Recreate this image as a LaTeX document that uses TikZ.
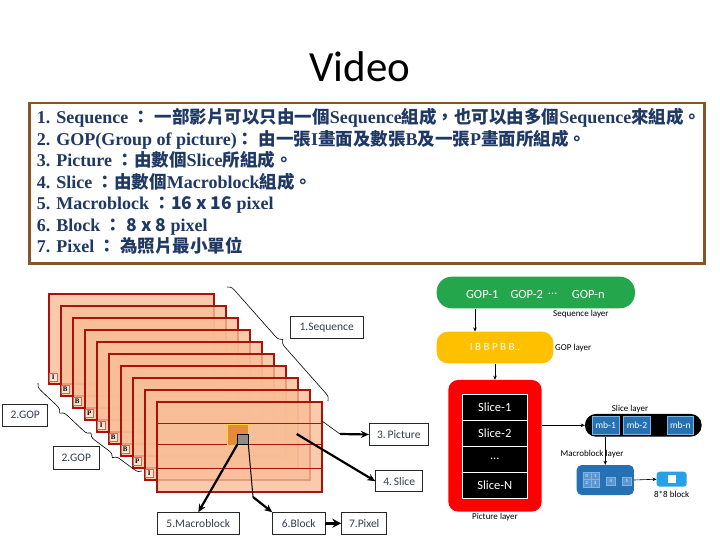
\documentclass[tikz,border=0pt]{standalone}
\usepackage{fontspec}
\setmainfont{Carlito}
\newfontfamily\lat{Liberation Serif}
\newfontfamily\cjk{Noto Sans CJK TC}
\usetikzlibrary{decorations.pathreplacing,arrows.meta}
\definecolor{navy}{RGB}{31,56,100}
\definecolor{brownb}{RGB}{135,85,40}
\definecolor{peach}{RGB}{248,190,152}
\definecolor{framered}{RGB}{170,18,10}
\definecolor{labtxt}{RGB}{50,62,78}
\definecolor{gGreen}{RGB}{36,166,76}
\definecolor{gYellow}{RGB}{255,192,0}
\definecolor{gRed}{RGB}{255,0,0}
\definecolor{mbBlue}{RGB}{38,112,180}
\definecolor{mbEdge}{RGB}{130,180,225}
\definecolor{mbIn}{RGB}{90,150,210}
\definecolor{lBlue}{RGB}{40,160,230}
\newcommand\zh[1]{{\cjk\bfseries\fontsize{17.5}{21}\selectfont #1}}
\begin{document}
\begin{tikzpicture}[x=1pt,y=-1pt,
  txtline/.style={anchor=base west,inner sep=0pt,text=navy,font=\lat\bfseries\fontsize{18}{21}\selectfont},
  frame/.style={draw=framered,line width=2pt,fill=peach,fill opacity=0.8,anchor=north west,minimum width=165pt,minimum height=90pt,inner sep=0pt},
  lab/.style={fill={rgb,255:red,252;green,226;blue,208},draw={rgb,255:red,200;green,110;blue,90},line width=0.4pt,minimum size=8.5pt,inner sep=0pt,font=\lat\bfseries\fontsize{7}{7}\selectfont,text=black},
  lbox/.style={draw={rgb,255:red,40;green,40;blue,40},line width=0.8pt,fill=white,inner sep=0pt,text=labtxt,font=\fontsize{11.5}{13}\selectfont},
  bigarrow/.style={line width=2.2pt,-{Stealth[length=8pt,width=7pt]}},
  sarrow/.style={line width=0.6pt,-{Stealth[length=4pt,width=3.5pt]}},
  brc/.style={decorate,decoration={brace,amplitude=7pt},line width=0.6pt},
  small/.style={inner sep=0pt,font=\fontsize{9}{10}\selectfont,text=black},
  cell/.style={fill=black,draw=white,line width=0.8pt,minimum width=65pt,minimum height=25.8pt,inner sep=0pt,text=white,font=\fontsize{12.5}{14}\selectfont},
  mbb/.style={fill=mbBlue,draw=mbEdge,line width=0.6pt,minimum height=18pt,inner sep=0pt,text=white,font=\fontsize{9.5}{10}\selectfont},
  qb/.style={fill=mbIn,draw=mbEdge,line width=0.4pt,inner sep=0pt,text=white,font=\fontsize{4.5}{5}\selectfont}
]
\useasboundingbox (0,0) rectangle (720,540);
\fill[white] (0,0) rectangle (720,540);

% title
\node[inner sep=0pt] (title) at (360,67) {\fontsize{43}{50}\selectfont Video};

% text box
\node[draw=brownb,line width=2.5pt,anchor=north west,minimum width=675pt,minimum height=160pt,inner sep=0pt] (tbox) at (28,102) {};
\node[txtline] (l1) at (36.7,124) {1. Sequence \zh{：} \zh{一部影片可以只由一個}Sequence\zh{組成，也可以由多個}Sequence\zh{來組成。}};
\node[txtline] (l2) at (36.7,145.4) {2. GOP(Group of picture)\zh{：} \zh{由一張}I\zh{畫面及數張}B\zh{及一張}P\zh{畫面所組成。}};
\node[txtline] (l3) at (36.7,166.8) {3. Picture \zh{：由數個}Slice\zh{所組成。}};
\node[txtline] (l4) at (36.7,188.2) {4. Slice \zh{：由數個}Macroblock\zh{組成。}};
\node[txtline] (l5) at (36.7,209.6) {5. Macroblock \zh{：16 x 16} pixel};
\node[txtline] (l6) at (36.7,231) {6. Block \zh{： 8 x 8} pixel};
\node[txtline] (l7) at (36.7,252.4) {7. Pixel \zh{： 為照片最小單位}};

% frames
\foreach \i/\l in {0/I,1/B,2/B,3/P,4/I,5/B,6/B,7/P,8/I,9/X}{
  \node[frame] (f\i) at ({47.7+12*\i},{292.7+12*\i}) {};
  \ifnum\i<9
    \node[lab] (lab\i) at ({47.7+12*\i+5.6},{292.7+12*\i+90-5.5}) {\l};
  \fi
}
% slice lines in last frame
\draw[framered,line width=0.9pt] (155.7,423.3) -- (321,423.3);
\draw[framered,line width=0.9pt] (155.7,444.7) -- (321,444.7);
\draw[framered,line width=0.9pt] (155.7,468.3) -- (321,468.3);
% macroblock and block
\node[fill={rgb,255:red,228;green,138;blue,58},draw={rgb,255:red,255;green,220;blue,40},line width=0.8pt,minimum width=20.6pt,minimum height=20.6pt,inner sep=0pt] (mbsq) at (238,434.7) {};
\node[fill={rgb,255:red,140;green,140;blue,140},draw=black,line width=0.6pt,minimum width=10.5pt,minimum height=10pt,inner sep=0pt] (blk) at (242.8,439.3) {};

% braces
\draw[brc] (227,287) -- (328,401);
\draw[brc,decoration={mirror}] (38,383) -- (91,433);
\draw[brc,decoration={mirror}] (91,433) -- (142,471);

% label boxes
\node[lbox,minimum width=73.3pt,minimum height=21.6pt] (seqb) at (326.7,327.5) {1.Sequence};
\node[lbox,minimum width=45pt,minimum height=22.7pt] (gop1) at (25.2,415.3) {2.GOP};
\node[lbox,minimum width=46pt,minimum height=22.6pt] (gop2) at (76.3,458) {2.GOP};
\node[lbox,minimum width=59pt,minimum height=22.4pt] (picb) at (398.8,434.5) {3.\,Picture};
\node[lbox,minimum width=47pt,minimum height=21pt] (sliceb) at (399.2,481.2) {4.\,Slice};
\node[lbox,minimum width=82pt,minimum height=21.3pt] (macb) at (198.3,523.3) {5.Macroblock};
\node[lbox,minimum width=52.3pt,minimum height=21.3pt] (blockb) at (298.8,523.3) {6.Block};
\node[lbox,minimum width=45pt,minimum height=21.3pt] (pixb) at (364.2,523.3) {7.Pixel};

% connectors
\coordinate (pc1) at (322,421);
\coordinate (pc2) at (340,434);
\draw[line width=0.6pt] (pc1) -- (pc2);
\draw[bigarrow] (pc2) -- (picb.west);
\coordinate (sl) at (296.7,434);
\draw[bigarrow] (sl) -- (sliceb.west);
\draw[bigarrow] (blk.south west) -- (macb.north);
\coordinate (bk) at (253,497);
\draw[line width=1pt] (blk.south east) -- (bk);
\draw[bigarrow] (bk) -- (blockb.north west);
\draw[line width=2.5pt,-{Stealth[length=9pt,width=9pt]}] (blockb.east) -- (pixb.west);

% right diagram
\node[fill=gGreen,rounded corners=15pt,minimum width=198.3pt,minimum height=31.6pt,inner sep=0pt] (seq) at (535.8,292.5) {};
\begin{scope}[every node/.style={inner sep=0pt,text=white,font=\fontsize{12.5}{14}\selectfont}]
\node (g1) at (482.3,294) {GOP-1};
\node (g2) at (526.7,294) {GOP-2};
\node (g3) at (552.7,294) {...};
\node (gn) at (588.3,294) {GOP-n};
\end{scope}
\node[small,anchor=west] (seqlay) at (553,314.3) {Sequence layer};
\node[fill=gYellow,rounded corners=11pt,minimum width=116.6pt,minimum height=31.6pt,inner sep=0pt,text=white,font=\fontsize{11}{12}\selectfont] (gop) at (495,347.5) {I B B P B B..};
\node[small,anchor=west] (goplay) at (555,348.3) {GOP layer};
\coordinate (a1) at (475,0);
\draw[sarrow] (seq.south -| a1) -- (gop.north -| a1);
\node[fill=gRed,rounded corners=10pt,minimum width=93.4pt,minimum height=131.7pt,inner sep=0pt] (redbox) at (495,445.8) {};
\draw[sarrow] (gop.south) -- (redbox.north);
\node[cell] (c1) at (494.8,407.7) {Slice-1};
\node[cell] (c2) at (494.8,433.5) {Slice-2};
\node[cell] (c3) at (494.8,459.3) {...};
\node[cell] (c4) at (494.8,485.1) {Slice-N};
\node[small] (piclay) at (495,517) {Picture layer};

\node[fill=black,rounded corners=11pt,minimum width=116.7pt,minimum height=22.7pt,inner sep=0pt] (sll) at (643.3,425.3) {};
\node[small] (slilay) at (630,409) {Slice layer};
\node[mbb,minimum width=27pt] (mb1) at (605.8,425.2) {mb-1};
\node[mbb,minimum width=27pt] (mb2) at (637,425.2) {mb-2};
\node[mbb,minimum width=26pt] (mbn) at (680.3,425.2) {mb-n};
\draw[sarrow] (redbox.east |- sll.west) -- (sll.west);

\node[fill=mbBlue,rounded corners=5pt,minimum width=57.3pt,minimum height=30pt,inner sep=0pt] (mbl) at (605.3,480) {};
\node[small] (mbllay) at (592,454.3) {Macroblock layer};
\draw[sarrow] (sll.south -| mbl.north) -- (mbl.north);
\node[qb,minimum width=8.3pt,minimum height=7.8pt] (q0) at (586.85,475.6) {0};
\node[qb,minimum width=8.3pt,minimum height=7.8pt] (q1) at (595.15,475.6) {1};
\node[qb,minimum width=8.3pt,minimum height=7.8pt] (q2) at (586.85,483.4) {2};
\node[qb,minimum width=8.3pt,minimum height=7.8pt] (q3) at (595.15,483.4) {3};
\node[qb,minimum width=8.3pt,minimum height=7.7pt] (q4) at (610.8,481.2) {4};
\node[qb,minimum width=8.3pt,minimum height=7.7pt] (q5) at (626.7,481.2) {5};

\node[fill=lBlue,rounded corners=3pt,minimum width=30pt,minimum height=15pt,inner sep=0pt] (b88) at (671.7,479.2) {};
\node[fill=white,minimum size=8pt,inner sep=0pt] (b88w) at (b88.center) {};
\draw[sarrow] (mbl.east) -- (b88.west);
\node[small] (b88lab) at (671.7,494.5) {8*8 block};
\end{tikzpicture}
\end{document}
